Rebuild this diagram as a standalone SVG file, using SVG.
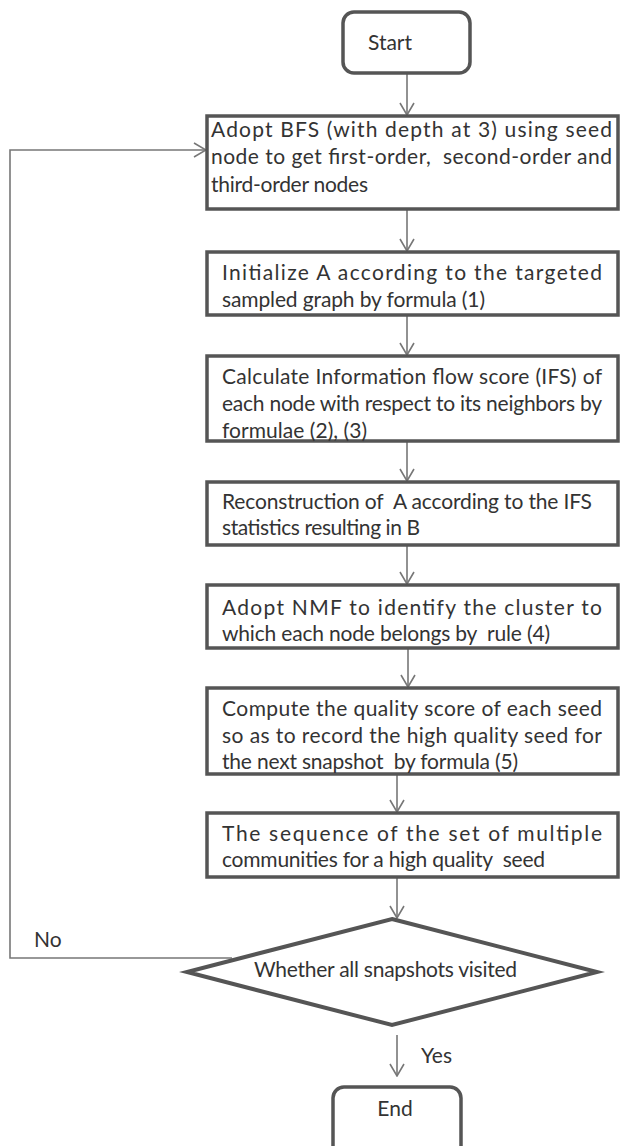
<svg xmlns="http://www.w3.org/2000/svg" width="621" height="1146" viewBox="0 0 621 1146">
<defs>
<style>
.box{fill:#fff;stroke:#555;stroke-width:3.5}
.t{font-family:Lato,"Open Sans","Liberation Sans",sans-serif;font-size:21px;fill:#333;white-space:pre}
.c{fill:none;stroke:#777;stroke-width:1.6}
</style>
<marker id="ah" viewBox="0 0 14 16" refX="13" refY="8" markerWidth="14" markerHeight="16" markerUnits="userSpaceOnUse" orient="auto">
<path d="M1,1 L13,8 L1,15" fill="none" stroke="#777" stroke-width="1.6"/>
</marker>
</defs>
<rect width="621" height="1146" fill="#fff"/>
<g id="connectors">
<line class="c" x1="407" y1="74" x2="407" y2="115" marker-end="url(#ah)"/>
<line class="c" x1="407" y1="210" x2="407" y2="251" marker-end="url(#ah)"/>
<line class="c" x1="407" y1="316" x2="407" y2="355" marker-end="url(#ah)"/>
<line class="c" x1="407" y1="442" x2="407" y2="481" marker-end="url(#ah)"/>
<line class="c" x1="407" y1="546" x2="407" y2="584" marker-end="url(#ah)"/>
<line class="c" x1="408" y1="649" x2="408" y2="687" marker-end="url(#ah)"/>
<line class="c" x1="397" y1="775" x2="397" y2="812" marker-end="url(#ah)"/>
<line class="c" x1="397" y1="878" x2="397" y2="918" marker-end="url(#ah)"/>
<line class="c" x1="397" y1="1035" x2="397" y2="1076" marker-end="url(#ah)"/>
<polyline class="c" points="232,958 10,958 10,150 206,150" marker-end="url(#ah)"/>
</g>
<g id="start">
<rect class="box" x="343" y="12" width="127" height="61" rx="11"/>
<text class="t" x="390" y="50" text-anchor="middle">Start</text>
</g>
<g id="bfs">
<rect class="box" x="207" y="116" width="411" height="93"/>
<text class="t" x="211" y="137" textLength="401" lengthAdjust="spacing">Adopt BFS (with depth at 3) using seed</text>
<text class="t" x="211" y="164" textLength="401" lengthAdjust="spacing">node to get first-order,  second-order and</text>
<text class="t" x="211" y="192" textLength="157" lengthAdjust="spacing">third-order nodes</text>
</g>
<g id="init">
<rect class="box" x="207" y="252" width="411" height="63"/>
<text class="t" x="222" y="280" textLength="380" lengthAdjust="spacing">Initialize A according to the targeted</text>
<text class="t" x="222" y="307" textLength="263" lengthAdjust="spacing">sampled graph by formula (1)</text>
</g>
<g id="ifs">
<rect class="box" x="207" y="356" width="411" height="85"/>
<text class="t" x="222" y="384" textLength="380" lengthAdjust="spacing">Calculate Information flow score (IFS) of</text>
<text class="t" x="222" y="411" textLength="380" lengthAdjust="spacing">each node with respect to its neighbors by</text>
<text class="t" x="222" y="438" textLength="145" lengthAdjust="spacing">formulae (2), (3)</text>
</g>
<g id="recon">
<rect class="box" x="207" y="482" width="411" height="63"/>
<text class="t" x="222" y="509" textLength="370" lengthAdjust="spacing">Reconstruction of  A according to the IFS</text>
<text class="t" x="222" y="535" textLength="198" lengthAdjust="spacing">statistics resulting in B</text>
</g>
<g id="nmf">
<rect class="box" x="207" y="585" width="411" height="63"/>
<text class="t" x="222" y="615" textLength="380" lengthAdjust="spacing">Adopt NMF to identify the cluster to</text>
<text class="t" x="222" y="641" textLength="328" lengthAdjust="spacing">which each node belongs by  rule (4)</text>
</g>
<g id="quality">
<rect class="box" x="207" y="688" width="411" height="86"/>
<text class="t" x="222" y="716" textLength="380" lengthAdjust="spacing">Compute the quality score of each seed</text>
<text class="t" x="222" y="743" textLength="380" lengthAdjust="spacing">so as to record the high quality seed for</text>
<text class="t" x="222" y="769" textLength="296" lengthAdjust="spacing">the next snapshot  by formula (5)</text>
</g>
<g id="sequence">
<rect class="box" x="207" y="813" width="411" height="64"/>
<text class="t" x="222" y="841" textLength="380" lengthAdjust="spacing">The sequence of the set of multiple</text>
<text class="t" x="222" y="867" textLength="323" lengthAdjust="spacing">communities for a high quality  seed</text>
</g>
<g id="decision">
<polygon points="392,919 597,972 392,1025 187,972" fill="#fff" stroke="#555" stroke-width="4" stroke-linejoin="miter"/>
<text class="t" x="254" y="977" textLength="263" lengthAdjust="spacing">Whether all snapshots visited</text>
</g>
<g id="labels">
<text class="t" x="34" y="947">No</text>
<text class="t" x="421" y="1063">Yes</text>
</g>
<g id="end">
<rect class="box" x="333" y="1087" width="128" height="80" rx="11"/>
<text class="t" x="395" y="1116" text-anchor="middle">End</text>
</g>
</svg>
